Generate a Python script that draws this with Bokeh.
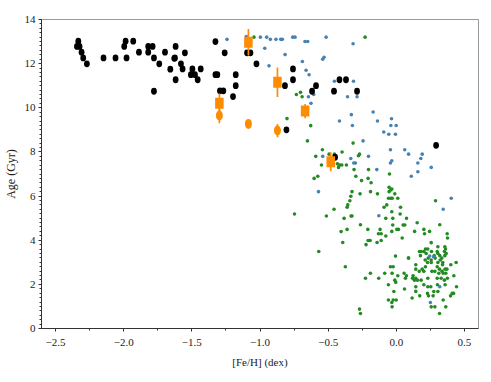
from bokeh.plotting import figure
from bokeh.models import ColumnDataSource, FixedTicker, CustomJSTickFormatter, Range1d
from bokeh.embed import file_html
from bokeh.resources import INLINE

# ---------------- data ----------------
black_feh = [-2.333, -2.343, -2.324, -2.309, -2.297, -2.27, -2.148, -2.06, -1.996, -1.986,
             -1.979, -1.93, -1.888, -1.82, -1.788, -1.82, -1.778, -1.778, -1.739, -1.697,
             -1.658, -1.619, -1.624, -1.619, -1.58, -1.551, -1.629, -1.568, -1.496, -1.435,
             -1.507, -1.477, -1.457, -1.327, -1.259, -1.327, -1.313, -1.178, -1.178, -1.294,
             -1.269, -1.198, -1.095, -1.07, -1.026, -0.758, -0.758, -0.817, -0.806, -0.589,
             -0.618, -0.417, -0.369, -0.457, -0.288, -0.449, 0.292]
black_age = [13.02, 12.78, 12.78, 12.52, 12.26, 11.99, 12.26, 12.26, 12.78, 13.02,
             12.26, 13.02, 12.52, 12.78, 12.78, 12.52, 12.26, 10.75, 11.99, 12.52,
             11.75, 12.78, 12.26, 11.27, 11.99, 12.49, 12.24, 11.76, 11.76, 11.76,
             11.5, 11.5, 11.27, 13.0, 12.49, 11.5, 11.5, 11.5, 11.0, 10.77,
             10.77, 10.51, 12.49, 12.49, 11.99, 11.76, 11.27, 11.0, 9.0, 11.0,
             10.75, 11.27, 11.27, 10.75, 10.75, 7.76, 8.3]

blue_feh = [-1.242, -1.10, -0.997, -0.951, -0.924, -0.883, -0.848, -0.836, -0.76, -0.743,
            -0.67, -0.65, -0.515, -0.317, -0.965, -0.816, -0.934, -0.689, -0.54, -0.53,
            -0.662, -0.64, -0.454, -0.314, -0.606, -0.645, -0.626, -0.358, -0.288, -0.17,
            -0.33, -0.138, -0.035, -0.417, -0.322, -0.04, -0.001, -0.092, -0.055, -0.006,
            -0.244, -0.043, 0.062, 0.09, 0.19, 0.18, 0.158, -0.033, -0.043, -0.204,
            -0.334, -0.312, -0.30, -0.54, -0.143, 0.11, 0.158, 0.256, 0.403, -0.571,
            0.344, -0.128, 0.245, 0.273, 0.319, 0.25]
blue_age = [13.1, 13.23, 13.2, 13.2, 13.1, 13.1, 13.1, 13.1, 13.2, 13.2,
            13.0, 13.0, 13.2, 12.9, 12.7, 12.41, 11.9, 12.1, 12.2, 12.29,
            11.7, 11.5, 11.2, 11.2, 10.6, 10.5, 10.2, 10.5, 10.5, 9.81,
            9.69, 9.4, 9.5, 9.4, 9.2, 9.2, 9.2, 8.9, 8.8, 8.8,
            8.5, 8.1, 8.1, 7.9, 7.9, 7.7, 7.5, 7.6, 7.5, 7.8,
            7.7, 7.5, 7.5, 7.8, 7.2, 6.9, 7.1, 7.3, 5.9, 6.2,
            5.4, 5.11, 3.28, 3.25, 1.89, 1.18]

green_feh = [-1.044, -0.229, -0.733, -0.703, -0.691, -0.802, -0.628, -0.652, -0.542, -0.591,
             -0.493, -0.454, -0.398, -0.317, -0.278, -0.27, -0.549, -0.432, -0.415, -0.40,
             -0.424, -0.366, -0.31, -0.204, -0.05, -0.576, -0.603, -0.297, -0.255, -0.207,
             -0.185, -0.325, -0.266, -0.189, -0.138, -0.053, -0.04, -0.033, -0.053, -0.011,
             -0.057, -0.04, -0.03, 0.011, -0.334, -0.341, -0.356, -0.361, -0.07, -0.09,
             0.031, 0.288, -0.747, -0.513, -0.457, -0.332, -0.325, -0.383, -0.033, 0.028,
             -0.077, -0.026, 0.075, -0.263, -0.361, -0.405, -0.209, -0.119, -0.131, -0.111,
             -0.077, -0.033, 0.004, 0.016, -0.026, 0.05, 0.062, 0.153, 0.319, 0.134,
             0.202, 0.207, 0.244, 0.373, 0.376, 0.043, -0.207, -0.192, -0.111, -0.141,
             -0.222, -0.393, 0.256, -0.569, -0.006, 0.09, -0.374,
             0.214, 0.231, 0.305, 0.356, 0.361,
             0.170, 0.182, 0.202, 0.258, 0.300, 0.353,
             0.177, 0.219, 0.278, 0.305, 0.319, 0.356, 0.366,
             0.089, 0.212, 0.234, 0.256, 0.285, 0.322, 0.334, 0.400,
             0.143, 0.229, 0.256, 0.305, 0.341, 0.439,
             -0.043, -0.023, 0.143, 0.190, 0.214, 0.261, 0.300, 0.317, 0.339, 0.358, 0.371,
             -0.190, -0.085, -0.031, 0.011, 0.057, 0.074, 0.123, 0.168, 0.202, 0.283, 0.312,
             0.336, 0.344, 0.363, 0.422,
             -0.226, -0.129, -0.011, -0.004, 0.067, 0.119, 0.133, 0.143, 0.155, 0.182, 0.231,
             0.300, 0.329, 0.353, 0.375,
             -0.058, 0.060, 0.202, 0.231, 0.253, 0.302, 0.358, 0.442,
             -0.018, 0.143, 0.143, 0.275, 0.305, 0.410, 0.398,
             0.116, 0.172, 0.229, 0.236, 0.270, 0.344, 0.420,
             -0.058, -0.023, -0.001, -0.033,
             -0.031, 0.256, 0.283, 0.363,
             -0.270, -0.263, 0.317]
green_age = [13.2, 13.2, 10.6, 10.7, 10.5, 9.51, 9.19, 8.5, 8.1, 7.8,
             7.9, 7.9, 8.0, 8.4, 7.83, 7.9, 7.41, 7.46, 7.41, 7.41,
             7.3, 7.41, 7.2, 7.2, 7.0, 6.9, 6.8, 6.9, 6.7, 6.8,
             6.6, 6.2, 6.1, 6.2, 6.1, 6.4, 6.28, 6.32, 6.2, 6.1,
             5.9, 5.9, 5.9, 5.9, 5.99, 5.79, 5.6, 5.49, 5.6, 5.49,
             5.49, 5.79, 5.19, 5.1, 5.4, 5.1, 5.1, 4.99, 5.29, 5.19,
             4.99, 4.99, 4.99, 4.7, 4.49, 4.39, 4.49, 4.49, 4.29, 4.29,
             4.19, 4.4, 4.49, 4.49, 4.69, 4.69, 4.69, 4.79, 4.7, 4.4,
             4.49, 4.29, 4.4, 4.29, 4.1, 4.1, 3.99, 3.99, 3.99, 3.9,
             3.8, 3.9, 3.89, 3.49, 3.28, 3.19, 2.8,
             3.6, 3.6, 3.705, 3.705, 3.6,
             3.49, 3.49, 3.49, 3.49, 3.49, 3.49,
             3.3, 3.4, 3.3, 3.4, 3.3, 3.3, 3.4,
             3.19, 3.1, 3.19, 3.1, 3.19, 3.1, 3.19, 2.89,
             2.89, 2.99, 2.99, 2.99, 2.99, 2.99,
             2.8, 2.8, 2.69, 2.69, 2.8, 2.59, 2.8, 2.69, 2.89, 2.69, 2.69,
             2.5, 2.5, 2.5, 2.39, 2.5, 2.39, 2.39, 2.59, 2.59, 2.59, 2.5,
             2.59, 2.5, 2.5, 2.39,
             2.28, 2.28, 2.19, 2.09, 2.28, 2.28, 2.19, 2.28, 2.19, 2.19, 2.28,
             2.28, 2.28, 2.19, 2.28,
             1.98, 1.79, 1.98, 1.89, 1.89, 1.98, 1.98, 1.89,
             1.68, 1.89, 1.68, 1.68, 1.68, 1.59, 1.48,
             1.38, 1.48, 1.59, 1.48, 1.48, 1.29, 1.59,
             1.29, 1.29, 1.29, 1.18,
             0.98, 0.98, 0.98, 0.98,
             0.88, 0.68, 0.68]

sq_feh = [-1.085, -0.872, -1.298, -0.669, -0.481]
sq_age = [12.97, 11.16, 10.2, 9.85, 7.56]
sq_err = [0.6, 0.67, 0.45, 0.32, 0.43]

ci_feh = [-1.298, -1.085, -0.872]
ci_age = [9.65, 9.27, 8.97]
ci_err = [0.35, 0.15, 0.3]

x_ticks = [-2.5, -2.0, -1.5, -1.0, -0.5, 0.0, 0.5]
x_minor = [-2.5, -2.25, -2.0, -1.75, -1.5, -1.25, -1.0, -0.75, -0.5, -0.25, 0.0, 0.25, 0.5]
y_ticks = [0, 2, 4, 6, 8, 10, 12, 14]
y_minor = [i * 0.2 for i in range(71)]

FONT = "Liberation Serif"
BLUE = "#4682b4"
GREEN = "#228b22"
ORANGE = "#ff8c00"

p = figure(frame_width=437, frame_height=309,
           x_range=Range1d(-2.603, 0.603), y_range=Range1d(0, 14),
           output_backend="svg", toolbar_location=None,
           min_border_left=32, min_border_right=6, min_border_top=19, min_border_bottom=46)
p.grid.visible = False
p.outline_line_color = "#999999"
p.background_fill_color = "white"

p.scatter(green_feh, green_age, size=3.6, color=GREEN, line_color=None)
p.scatter(blue_feh, blue_age, size=3.6, color=BLUE, line_color=None)
p.ellipse(black_feh, black_age, width=5.8, height=6.8, width_units="screen",
          height_units="screen", color="black", line_color=None)

sq = ColumnDataSource(dict(x=sq_feh, y=sq_age,
                           lo=[a - e for a, e in zip(sq_age, sq_err)],
                           hi=[a + e for a, e in zip(sq_age, sq_err)]))
ci = ColumnDataSource(dict(x=ci_feh, y=ci_age,
                           lo=[a - e for a, e in zip(ci_age, ci_err)],
                           hi=[a + e for a, e in zip(ci_age, ci_err)]))
p.segment(x0="x", y0="lo", x1="x", y1="hi", source=ci, line_color=ORANGE, line_width=1.7)
p.ellipse("x", "y", width=7, height=10, width_units="screen", height_units="screen",
          source=ci, color=ORANGE, line_color=None)
p.segment(x0="x", y0="lo", x1="x", y1="hi", source=sq, line_color=ORANGE, line_width=1.7)
p.rect("x", "y", width=8.5, height=11, width_units="screen", height_units="screen",
       source=sq, color=ORANGE, line_color=None)

fmt = CustomJSTickFormatter(code="return tick.toFixed(1).replace('-', '\u2212');")
yfmt = CustomJSTickFormatter(code="return tick.toFixed(0);")

p.xaxis.ticker = FixedTicker(ticks=x_ticks, minor_ticks=x_minor)
p.yaxis.ticker = FixedTicker(ticks=y_ticks, minor_ticks=y_minor)
p.xaxis.formatter = fmt
p.yaxis.formatter = yfmt
p.xaxis.axis_label = "[Fe/H] (dex)"
p.yaxis.axis_label = "Age (Gyr)"

for ax in (p.xaxis[0], p.yaxis[0]):
    ax.axis_line_color = "#333333"
    ax.major_tick_line_color = "#333333"
    ax.minor_tick_line_color = "#333333"
    ax.major_tick_in = 0
    ax.major_tick_out = 3
    ax.minor_tick_in = 0
    ax.minor_tick_out = 2
    ax.major_label_text_font = FONT
    ax.major_label_text_font_size = "11px"
    ax.major_label_text_color = "#222222"
    ax.axis_label_text_font = FONT
    ax.axis_label_text_font_style = "normal"
    ax.axis_label_text_color = "#222222"
    ax.major_label_standoff = 3
    ax.axis_label_standoff = 4

p.xaxis.axis_label_text_font_size = "11px"
p.yaxis.axis_label_text_font_size = "12px"
p.xaxis.major_label_standoff = 7
p.xaxis.axis_label_standoff = 7

open("out.html", "w").write(file_html(p, INLINE))
